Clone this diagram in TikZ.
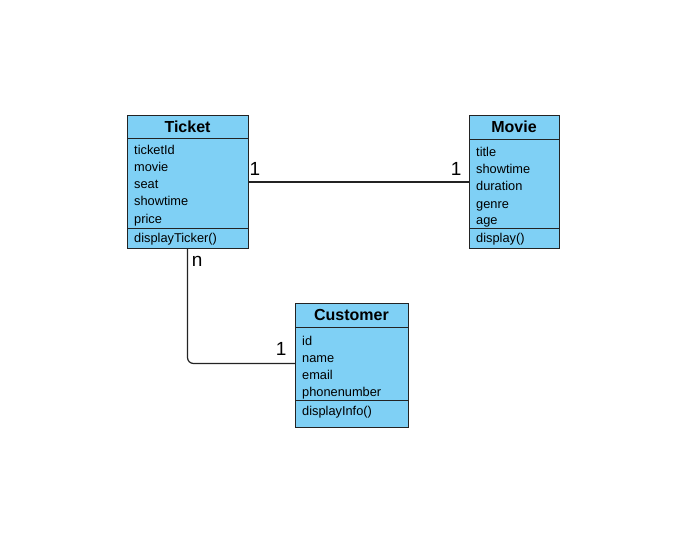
\documentclass[tikz,border=0pt]{standalone}
\usepackage{fontspec}
\setmainfont{Liberation Sans}
\definecolor{clsfill}{RGB}{127,208,245}
\definecolor{edgecol}{RGB}{35,35,35}
\begin{document}
\begin{tikzpicture}[x=1pt,y=-1pt,
  box/.style={draw=edgecol, fill=clsfill, line width=0.95pt, inner sep=0pt, outer sep=0pt, anchor=north west},
  ttl/.style={box, font=\bfseries\fontsize{16}{19}\selectfont},
  row/.style={anchor=base west, inner sep=0pt, font=\fontsize{12.8}{15}\selectfont},
  mult/.style={anchor=base west, inner sep=0pt, font=\fontsize{19}{22}\selectfont},
  link/.style={draw=edgecol, line width=1.2pt}]
\useasboundingbox[fill=white] (0,0) rectangle (679,553);

% Ticket
\node[ttl, minimum width=121pt, minimum height=23pt] (tT) at (127,115) {Ticket};
\node[box, minimum width=121pt, minimum height=90pt] (tA) at (127,138) {};
\node[box, minimum width=121pt, minimum height=20pt] (tM) at (127,228) {};
\foreach \txt [count=\i] in {ticketId,movie,seat,showtime,price}
  \node[row] (ta\i) at (134,{155+17*(\i-1)}) {\txt};
\node[row] (tm1) at (134,242) {displayTicker()};

% Movie
\node[ttl, minimum width=90pt, minimum height=24pt] (mT) at (469,115) {Movie};
\node[box, minimum width=90pt, minimum height=89pt] (mA) at (469,139) {};
\node[box, minimum width=90pt, minimum height=20pt] (mM) at (469,228) {};
\foreach \txt [count=\i] in {title,showtime,duration,genre,age}
  \node[row] (ma\i) at (476,{157+17*(\i-1)}) {\txt};
\node[row] (mm1) at (476,242) {display()};

% Customer
\node[ttl, minimum width=113pt, minimum height=24pt] (cT) at (295,303) {Customer};
\node[box, minimum width=113pt, minimum height=73pt] (cA) at (295,327) {};
\node[box, minimum width=113pt, minimum height=27pt] (cM) at (295,400) {};
\foreach \txt [count=\i] in {id,name,email,phonenumber}
  \node[row] (ca\i) at (302,{345+17*(\i-1)}) {\txt};
\node[row] (cm1) at (302,415) {displayInfo()};

% connectors
\draw[link] ([yshift=1pt]tA.east) -- ([yshift=1pt]tA.east -| mA.west);
\draw[link, rounded corners=6pt] (tM.south) |- (cA.west);

% multiplicities
\node[mult] (l1) at (249.5,176) {1};
\node[mult] (l2) at (450.7,176) {1};
\node[mult] (l3) at (191.7,266) {n};
\node[mult] (l4) at (275.7,355) {1};
\end{tikzpicture}
\end{document}
